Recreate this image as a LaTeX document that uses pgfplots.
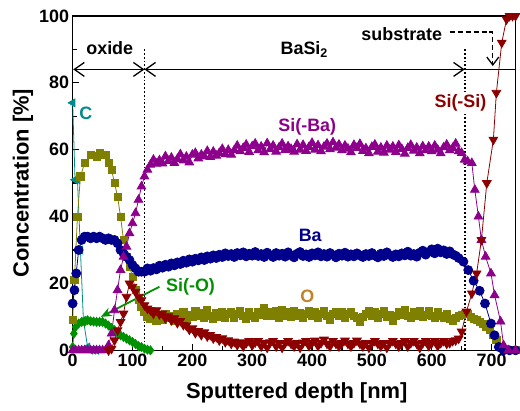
\documentclass[border=0pt]{standalone}
\usepackage{pgfplots}
\pgfplotsset{compat=1.18}
\usepackage{fontspec}
\setmainfont{Liberation Sans}
\usetikzlibrary{arrows.meta}
\definecolor{cteal}{RGB}{0,140,140}
\definecolor{colive}{RGB}{128,128,0}
\definecolor{cnavy}{RGB}{0,0,140}
\definecolor{cpurple}{RGB}{140,0,140}
\definecolor{cdred}{RGB}{140,0,0}
\definecolor{cgreen}{RGB}{0,145,0}
\definecolor{corange}{RGB}{195,130,40}
\begin{document}
\begin{tikzpicture}
\begin{axis}[
  width=445pt, height=336pt, scale only axis,
  xmin=0, xmax=740, ymin=0, ymax=100,
  xtick={0,100,...,700}, ytick={0,20,...,100},
  minor xtick={50,150,...,750}, minor ytick={10,30,...,90},
  tick pos=left, tick align=inside,
  major tick length=6pt, minor tick length=4pt,
  axis line style={line width=1.6pt},
  every tick/.style={line width=1.4pt, black},
  /pgf/number format/assume math mode=true,
  tick label style={font=\fontsize{18}{18}\selectfont\bfseries},
  label style={font=\fontsize{22}{22}\selectfont\bfseries},
  xlabel={Sputtered depth [nm]},
  ylabel={Concentration [\%]},
  xlabel style={at={(axis description cs:0.506,-0.128)}, anchor=center},
  ylabel style={at={(axis description cs:-0.112,0.5)}, anchor=center},
  every axis plot/.append style={line width=0.8pt},
]
% C
\addplot[cteal, mark=triangle*, mark size=4.5pt, mark options={rotate=90}] coordinates {
(0,74)(4,51)(8,51)(13,30)(18,9)(25,1)(30,0)(35,0)(40,0)};
% Si(-O)
\addplot[cgreen, mark=diamond*, mark size=4.5pt] coordinates {
(0,1)(2,5)(5,7)(10,8)(15,8.5)(20,8.5)(25,9)(30,8.7)(35,8.6)(40,8.5)(45,8.5)(50,8.5)(55,8)(60,7.4)(65,6.7)(70,6)(75,5.2)(80,4.5)(85,4)(90,3.5)(95,3)(100,2.5)(105,1.9)(110,1.3)(115,1)(120,0.5)(125,0.2)(130,0)};
% O
\addplot[colive, mark=square*, mark size=3.6pt] coordinates {
(0,9)(3,21)(8,40)(13,52)(20,56)(30,58.5)(40,58)(45,59)(50,58.5)(55,58.5)(60,56)(65,54)(70,50)(75,46)(80,40)(85,33)(90,28)(95,25)(100,22)(105,18)(110,15)(115,13)(120,11.5)(125,10)
(130,9.5)(135,10.8)(140,8.8)(145,10.3)(150,9.2)(155,11)(160,9.6)(165,10.4)(170,8.9)(175,10.9)(180,9.8)(185,11.4)(190,9.4)(195,10.6)(200,9.9)(205,11.8)(210,10.2)(215,11.2)(220,9.6)(225,12)(230,10.4)(235,9.5)(240,11.3)(245,10.1)(250,11.6)(255,9.7)(260,10.8)(265,11.5)(270,9.6)(275,10.9)(280,11.7)(285,10.2)(290,9.5)(295,11.4)(300,10.3)(305,9.7)(310,11.6)(315,10.5)(320,12.6)(325,10.2)(330,11.5)(335,10.4)(340,11.8)(345,9.8)(350,12.2)(355,10.3)(360,11.4)(365,10.0)(370,11.7)(375,10.4)(380,11.3)(385,9.7)(390,10.8)(395,11.9)(400,10.2)(405,11.4)(410,9.6)(415,10.9)(420,11.8)(425,10.3)(430,9.2)(435,10.9)(440,11.6)(445,10.2)(450,11.5)(455,9.7)(460,10.8)(465,11.6)(470,10.3)(475,9.6)(480,8.6)(485,10.1)(490,10.9)(495,11.8)(500,10.4)(505,11.5)(510,9.8)(515,10.8)(520,11.7)(525,9.9)(530,10.7)(535,8.7)(540,10.2)(545,11.6)(550,10.5)(555,12.0)(560,10.4)(565,9.8)(570,11.5)(575,10.4)(580,11.9)(585,9.9)(590,10.6)(595,11.8)(600,10.2)(605,9.7)(610,11.4)(615,10.3)(620,9.6)(625,10.8)(630,9.4)(635,8.8)(640,9.6)(645,10.2)(650,10.5)(655,11)(660,10.8)
(665,10)(670,9.5)(675,9)(680,8.6)(685,8)(690,7)(697,6)(702,4.5)(708,3)(715,1)(722,0.3)(730,0)(740,0)};
% Ba
\addplot[cnavy, mark=*, mark size=4.5pt] coordinates {
(0,14)(3,18)(6,23)(10,30)(15,33)(20,34)(25,34)(30,33.5)(35,34)(40,33.5)(45,34)(50,33.5)(55,33)(60,33.5)(65,33)(70,33)(75,32)(80,30)(85,29)(90,28)(95,27)(100,25.5)(105,24.5)(110,23.5)(115,23.5)
(120,23.5)(125,24.5)(130,23.8)(135,24.6)(140,24.2)(145,25.3)(150,24.7)(155,25.6)(160,25)(165,26)(170,25.4)(175,26.3)(180,25.8)(185,26.8)(190,26.2)(195,27.2)(200,26.5)(205,27.4)(210,26.9)(215,27.8)(220,27)(225,28.1)(230,27.4)(235,28.4)(240,27.6)(245,28.6)(250,27.9)(255,29)(260,28.2)(265,28.8)(270,27.9)(275,29.1)(280,28.4)(285,29.3)(290,28.1)(295,28.9)(300,28.3)(305,29.4)(310,28.2)(315,28.8)(320,27.9)(325,29.2)(330,28.5)(335,27.9)(340,29.1)(345,28.3)(350,28.9)(355,28.0)(360,29.3)(365,28.4)(370,27.8)(375,28.9)(380,29.4)(385,28.2)(390,28.7)(395,27.9)(400,29.0)(405,28.4)(410,29.3)(415,28.1)(420,28.8)(425,28.0)(430,29.1)(435,28.5)(440,27.8)(445,28.9)(450,28.3)(455,29.2)(460,28.0)(465,28.7)(470,28.1)(475,29.0)(480,28.4)(485,27.9)(490,28.8)(495,28.2)(500,29.1)(505,28.3)(510,27.8)(515,28.9)(520,28.2)(525,29.3)(530,28.5)(535,27.9)(540,28.7)(545,28.1)(550,29.0)(555,28.4)(560,29.5)(565,28.3)(570,28.8)(575,28.0)(580,29.2)(585,29.8)(590,28.6)(595,29.4)(600,30.2)(605,29.0)(610,30.4)(615,29.3)(620,29.9)(625,28.8)(630,29.6)(635,28.7)(640,28.3)(645,27.6)
(653,26.5)(661,24)(670,20.8)(680,17.8)(689,14)(699,8)(705,4.5)(712,1)(720,0)(730,0)(740,0)};
% Si(-Ba)
\addplot[cpurple, mark=triangle*, mark size=5pt] coordinates {
(0,0)(5,0)(10,0)(15,0)(20,0)(25,0)(30,0)(35,0)(40,0)(45,0)(50,0)(55,0)(60,1.5)(65,5)(70,12)(75,18)(80,24)(85,28)(90,31)(95,35)(100,38)(105,41)(110,45)(115,49)(120,52)(125,54)
(130,55.5)(135,57)(140,55.8)(145,56.8)(150,55.9)(155,58)(160,56.6)(165,57.6)(170,56)(175,57.2)(180,58.6)(185,56.8)(190,57.9)(195,56.2)(200,58.5)(205,59)(210,57.4)(215,58.5)(220,58)(225,59.6)(230,57.8)(235,59.4)(240,58.2)(245,59)(250,60.2)(255,58.6)(260,59.9)(265,58.5)(270,59.8)(275,61.2)(280,59.5)(285,60.5)(290,61.5)(295,59.3)(300,61)(305,61.8)(310,59.8)(315,60.9)(320,59.2)(325,61.9)(330,60.1)(335,61.2)(340,59.4)(345,60.7)(350,61.8)(355,59.9)(360,61.0)(365,60.2)(370,59.4)(375,61.6)(380,60.0)(385,61.4)(390,59.6)(395,60.8)(400,62.0)(405,60.0)(410,61.3)(415,59.5)(420,60.9)(425,61.8)(430,60.1)(435,62.2)(440,60.6)(445,61.5)(450,59.8)(455,61.2)(460,60.3)(465,59.2)(470,61.4)(475,60.5)(480,61.7)(485,59.6)(490,60.4)(495,58.9)(500,60.8)(505,61.5)(510,59.4)(515,60.6)(520,59.1)(525,61.2)(530,60.0)(535,60.9)(540,59.3)(545,61.3)(550,60.2)(555,58.8)(560,60.5)(565,61.4)(570,59.7)(575,60.6)(580,58.9)(585,61.0)(590,59.8)(595,60.9)(600,59.5)(605,61.2)(610,60.0)(615,58.9)(620,60.7)(625,61.5)(630,59.8)(635,60.5)(640,61.8)(645,59.5)
(650,59)(655,57)(660,56.5)(667,56)(672,48)(678,40)(683,33)(690,28)(699,23)(705,16.5)(715,8.6)(720,1.5)(728,0)(740,0)};
% Si(-Si)
\addplot[cdred, mark=triangle*, mark size=5pt, mark options={rotate=180}] coordinates {
(60,0)(65,0.5)(70,3)(75,6)(80,8.5)(85,11)(90,16)(95,20)(100,19)(105,17.5)(110,16)(115,15)(120,13.5)(125,12.5)(130,12)(135,11)(140,12)(145,10.8)(150,11)(155,9.6)(160,10.2)(165,9)(170,9.6)(175,8.2)(180,8.8)(185,7.6)(190,7.4)(195,6.2)(200,6.6)(205,5.2)(210,5.8)(215,4.6)(220,5.4)(225,4.2)(230,4.6)(235,3.6)(240,4.0)(245,3.0)(250,3.6)(255,2.5)(260,3.0)(265,2.0)(270,2.6)(275,1.6)(280,2.4)(285,1.2)(290,2.2)(295,2.8)(300,1.5)(305,2.4)(310,2.8)(315,1.2)(320,2.2)(325,0.8)(330,2.4)(335,2.8)(340,1.2)(345,2.2)(350,0.8)(355,2.2)(360,2.8)(365,2)(370,1.2)(375,2.2)(380,0.8)(385,2.3)(390,2.8)(395,1.3)(400,2.2)(405,2.9)(410,1.3)(415,2.2)(420,3.2)(425,2)(430,1.2)(435,2.8)(440,2)(445,1.2)(450,2.2)(455,2.9)(460,2)(465,1.2)(470,2.2)(475,2.9)(480,2)(485,1.2)(490,2.2)(495,0.8)(500,2.2)(505,2.8)(510,2)(515,1.2)(520,2.2)(525,0.8)(530,2.2)(535,2.8)(540,2)(545,1.2)(550,2.2)(555,2.8)(560,1.2)(565,2.2)(570,2.8)(575,2)(580,0.8)(585,2.2)(590,2.8)(595,1.3)(600,2.2)(605,2.8)(610,1.3)(615,2.2)(620,2.8)(625,2)(630,2.2)(635,2.8)(640,3)(645,3.5)
(650,5.6)(658,11.6)(667,17)(675,23)(683,33)(692,50)(703,63)(708,77)(717,92)(725,99)(730,100)(735,100)(740,100)};

% annotations
\draw[line width=1.8pt, dotted] (axis cs:120,90) -- (axis cs:120,0);
\draw[line width=1.8pt, dotted] (axis cs:655,90) -- (axis cs:655,0);
\draw[line width=1.3pt] (axis cs:655,84) -- (axis cs:740,84);
\draw[line width=1.3pt, {Straight Barb[length=10pt,width=14pt]}-{Straight Barb[length=10pt,width=14pt]}] (axis cs:1,84) -- (axis cs:120,84);
\draw[line width=1.3pt, {Straight Barb[length=10pt,width=14pt]}-{Straight Barb[length=10pt,width=14pt]}] (axis cs:120,84) -- (axis cs:655,84);
\draw[line width=1.3pt, dash pattern=on 5pt off 3pt, -{Straight Barb[length=8pt,width=12pt]}] (axis cs:630,95.2) -- (axis cs:702,95.2) -- (axis cs:702,85);
\node[font=\fontsize{18}{18}\selectfont\bfseries] at (axis cs:62,90.5) {oxide};
\node[font=\fontsize{18}{18}\selectfont\bfseries] at (axis cs:387,90) {BaSi\textsubscript{2}};
\node[font=\fontsize{18}{18}\selectfont\bfseries] at (axis cs:550,94.5) {substrate};
\node[font=\fontsize{18}{18}\selectfont\bfseries, text=cteal] at (axis cs:22,71) {C};
\node[font=\fontsize{18}{18}\selectfont\bfseries, text=cpurple] at (axis cs:392,66.7) {Si(-Ba)};
\node[font=\fontsize{18}{18}\selectfont\bfseries, text=cnavy] at (axis cs:397,34.3) {Ba};
\node[font=\fontsize{18}{18}\selectfont\bfseries, text=corange] at (axis cs:392,16) {O};
\node[font=\fontsize{18}{18}\selectfont\bfseries, text=cgreen] at (axis cs:197,19) {Si(-O)};
\node[font=\fontsize{18}{18}\selectfont\bfseries, text=cdred, fill=white, inner sep=3pt] at (axis cs:648,74) {Si(-Si)};
\draw[cgreen, line width=1.8pt, -{Stealth[length=11pt,width=9pt]}] (axis cs:145,19) -- (axis cs:47,10);
\end{axis}
\path (current axis.south west) ++(-73pt,-60pt) (current axis.north east) ++(2pt,16pt);
\end{tikzpicture}
\end{document}
